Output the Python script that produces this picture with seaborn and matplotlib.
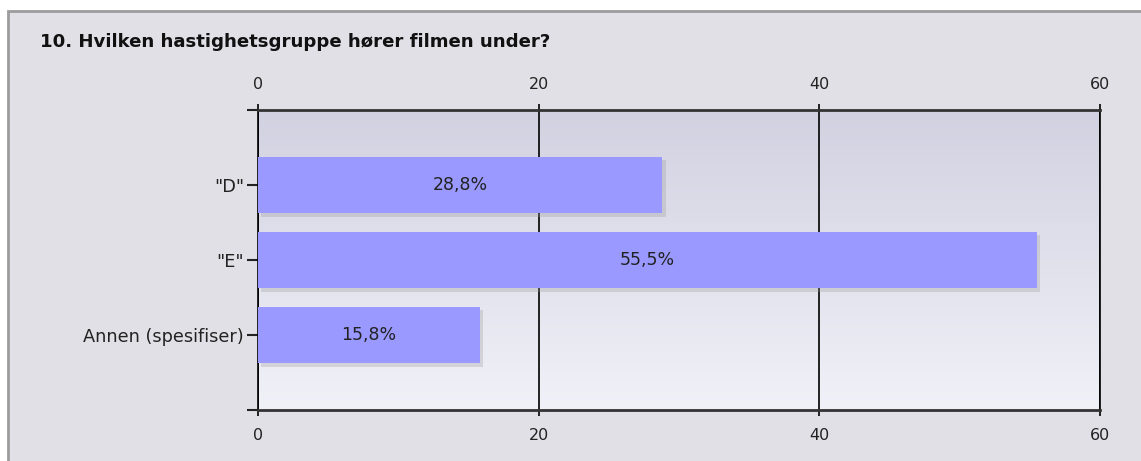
import numpy as np
import matplotlib
matplotlib.use("Agg")
import matplotlib.pyplot as plt
import matplotlib.patheffects as pe
from matplotlib.colors import LinearSegmentedColormap
from matplotlib.patches import Rectangle
import seaborn as sns

title = "10. Hvilken hastighetsgruppe hører filmen under?"
categories = ['"D"', '"E"', 'Annen (spesifiser)']
values = [28.8, 55.5, 15.8]
value_labels = ["28,8%", "55,5%", "15,8%"]
x_ticks = [0, 20, 40, 60]

sns.set_theme(style="white")
plt.rcParams['font.family'] = ['DejaVu Sans']

W, H = 1141, 461
fig = plt.figure(figsize=(W / 100, H / 100), dpi=100, facecolor="white")

# outer panel
fig.patches.append(Rectangle((7.5 / W, -0.1), 1.2, (H - 11.5) / H + 0.1,
                             transform=fig.transFigure, facecolor="#e1e0e6",
                             edgecolor="#9c9c9c", linewidth=2, zorder=-5))
fig.text(40 / W, 1 - 42 / H, title, fontsize=13.1, fontweight="bold",
         color="#111111", va="center", ha="left")

ax = fig.add_axes([258 / W, 1 - 410 / H, (1100 - 258) / W, 300 / H])
ax.set_zorder(1)

# gradient plot background
cmap = LinearSegmentedColormap.from_list("bg", ["#f1f1f8", "#d1d1e1"])
ax.imshow(np.linspace(0, 1, 256).reshape(-1, 1), cmap=cmap, origin="lower",
          extent=[0, 1, 0, 1], transform=ax.transAxes, aspect="auto", zorder=0)

sns.barplot(x=values, y=categories, orient="h", color="#9999ff", saturation=1,
            width=0.75, ax=ax, zorder=3)
for p in ax.patches:
    p.set_path_effects([pe.SimplePatchShadow(offset=(2.5, -2.5), shadow_rgbFace="#999999", alpha=0.3),
                        pe.Normal()])
    p.set_edgecolor("none")

for i, (v, lab) in enumerate(zip(values, value_labels)):
    ax.text(v / 2, i, lab, ha="center", va="center", fontsize=12.5,
            color="#222222", zorder=5)

ax.set_xlim(0, 60)
ax.set_ylim(3, -1)
ax.set_xticks(x_ticks)
ax.set_xticklabels([str(t) for t in x_ticks])
ax.set_yticks([-1, 0, 1, 2, 3])
ax.set_yticklabels([""] + categories + [""])
ax.set_xlabel("")
ax.set_ylabel("")

ax.set_axisbelow(True)
ax.xaxis.grid(True, color="black", linewidth=1.2)
ax.yaxis.grid(False)
for s in ["left", "right"]:
    ax.spines[s].set_color("black")
    ax.spines[s].set_linewidth(1.2)
for s in ["top", "bottom"]:
    ax.spines[s].set_color("#333333")
    ax.spines[s].set_linewidth(2)
    ax.spines[s].set_zorder(4)

ax.tick_params(axis="x", top=True, labeltop=True, bottom=True, labelbottom=True,
               direction="out", length=4, width=1.2, color="black",
               pad=9, labelsize=11.5, labelcolor="#222222")
ax.tick_params(axis="y", left=True, direction="out", length=8, width=1.5,
               color="#222222", pad=2, labelsize=12.8, labelcolor="#222222")

fig.savefig("out.png", dpi=100, facecolor="white")
